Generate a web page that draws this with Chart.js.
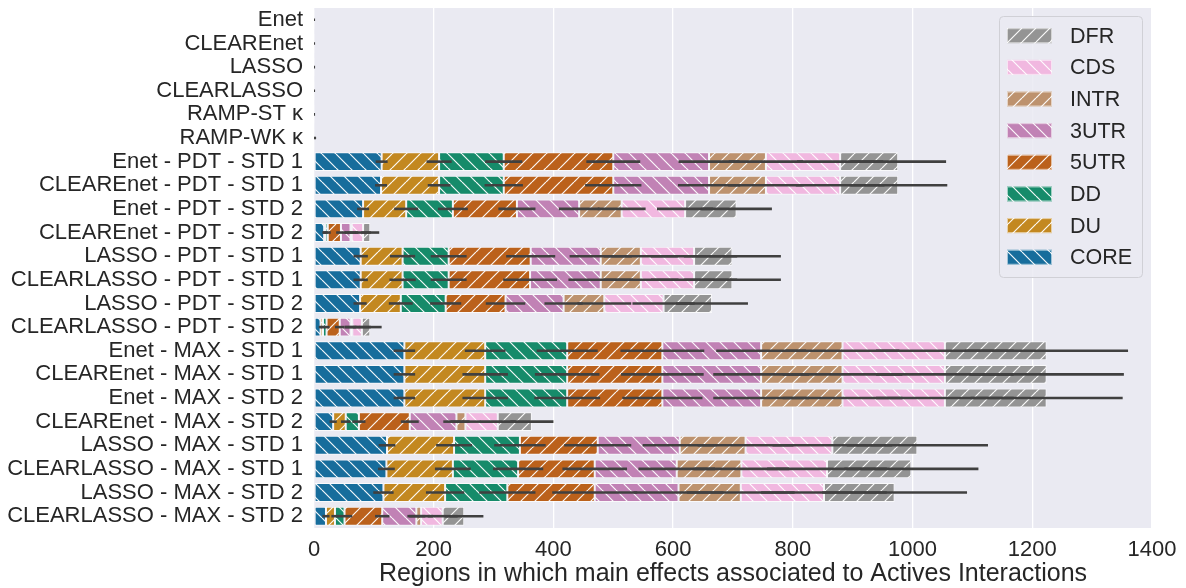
<!DOCTYPE html>
<html>
<head>
<meta charset="utf-8">
<script src="https://cdn.jsdelivr.net/npm/chart.js@4/dist/chart.umd.min.js"></script>
<style>
  body { margin: 0; background: #fff; }
</style>
</head>
<body>
<canvas id="regions" width="1186" height="588"></canvas>
<script>
const labels = [
  "Enet", "CLEAREnet", "LASSO", "CLEARLASSO", "RAMP-ST κ", "RAMP-WK κ",
  "Enet - PDT - STD 1", "CLEAREnet - PDT - STD 1", "Enet - PDT - STD 2", "CLEAREnet - PDT - STD 2",
  "LASSO - PDT - STD 1", "CLEARLASSO - PDT - STD 1", "LASSO - PDT - STD 2", "CLEARLASSO - PDT - STD 2",
  "Enet - MAX - STD 1", "CLEAREnet - MAX - STD 1", "Enet - MAX - STD 2", "CLEAREnet - MAX - STD 2",
  "LASSO - MAX - STD 1", "CLEARLASSO - MAX - STD 1", "LASSO - MAX - STD 2", "CLEARLASSO - MAX - STD 2"
];
const xTicks = [0, 200, 400, 600, 800, 1000, 1200, 1400];

// mean number of regions per region type
const core = [0.3, 0.3, 0.3, 0.3, 0.3, 1, 113, 112, 82, 17, 78, 78, 77, 11, 151, 151, 151, 32, 122, 121, 116, 20];
const du   = [0, 0, 0, 0, 0, 0.5, 96, 97, 72, 2, 70, 70, 68, 4, 135, 135, 135, 21, 112, 111, 103, 15];
const dd   = [0, 0, 0, 0, 0, 0, 108, 108, 78, 4, 77, 77, 75, 6, 137, 137, 137, 22, 110, 109, 104, 16];
const utr5 = [0, 0, 0, 0, 0, 0, 183, 183, 107, 22, 137, 136, 100, 22, 159, 159, 159, 85, 130, 128, 146, 63];
const utr3 = [0, 0, 0, 0, 0, 0, 160, 160, 104, 16, 117, 118, 97, 18, 165, 165, 165, 78, 137, 137, 140, 57];
const intr = [0, 0, 0, 0, 0, 0, 95, 95, 71, 2, 67, 67, 68, 3, 136, 136, 136, 15, 110, 108, 104, 8];
const cds  = [0, 0, 0, 0, 0, 0, 124, 124, 106, 19, 89, 89, 99, 16, 171, 171, 171, 54, 145, 143, 139, 36];
const dfr  = [0, 0, 0, 0, 0, 0, 97, 97, 86, 12, 64, 64, 81, 14, 170, 170, 170, 57, 142, 141, 118, 36];

// error bar half widths
const coreErr = [1.5, 1.5, 1.5, 1.5, 1.5, 2.5, 10, 10, 10, 3, 12, 12, 11, 3, 18, 18, 18, 6, 14, 14, 17, 6];
const duErr   = [0, 0, 0, 0, 0, 0, 21, 19, 20, 4, 21, 22, 20, 4, 34, 38, 38, 8, 30, 30, 32, 6];
const ddErr   = [0, 0, 0, 0, 0, 0, 31, 32, 25, 5, 30, 30, 26, 5, 51, 54, 55, 11, 43, 42, 47, 13];
const utr5Err = [0, 0, 0, 0, 0, 0, 45, 47, 31, 8, 41, 45, 33, 8, 70, 69, 67, 15, 56, 54, 71, 12];
const utr3Err = [0, 0, 0, 0, 0, 0, 51, 52, 34, 10, 52, 54, 32, 10, 75, 80, 80, 22, 62, 64, 75, 15];
const intrErr = [0, 0, 0, 0, 0, 0, 62, 63, 40, 11, 62, 63, 45, 12, 95, 100, 100, 25, 80, 80, 90, 20];
const cdsErr  = [0, 0, 0, 0, 0, 0, 72, 74, 47, 13, 72, 72, 52, 15, 115, 115, 115, 30, 100, 100, 105, 25];
const dfrErr  = [0, 0, 0, 0, 0, 0, 80, 82, 59, 15, 81, 81, 60, 19, 136, 129, 127, 36, 118, 112, 121, 32];

const names  = ["CORE", "DU", "DD", "5UTR", "3UTR", "INTR", "CDS", "DFR"];
const series = [core, du, dd, utr5, utr3, intr, cds, dfr];
const errs   = [coreErr, duErr, ddErr, utr5Err, utr3Err, intrErr, cdsErr, dfrErr];
const colors = ["#176D9C", "#C38820", "#168B6A", "#BB611B", "#C182B5", "#BD926E", "#F1B8E0", "#949494"];
const hatches = ["\\", "/", "\\", "/", "\\", "/", "\\", "/"];

const FONT = "'Liberation Sans', Arial, sans-serif";

function hatch(color, dir) {
  const s = 14;
  const c = document.createElement("canvas");
  c.width = s; c.height = s;
  const g = c.getContext("2d");
  g.fillStyle = color;
  g.fillRect(0, 0, s, s);
  g.strokeStyle = "rgba(255,255,255,0.95)";
  g.lineWidth = 1.2;
  g.beginPath();
  for (let k = -1; k <= 1; k++) {
    if (dir === "/") { g.moveTo(k * s, s); g.lineTo(k * s + s, 0); }
    else { g.moveTo(k * s, 0); g.lineTo(k * s + s, s); }
  }
  g.stroke();
  return g.createPattern(c, "repeat");
}

const patterns = colors.map((c, i) => hatch(c, hatches[i]));

const bgPlugin = {
  id: "bg",
  beforeDraw(chart) {
    const { ctx, chartArea: a } = chart;
    ctx.save();
    ctx.fillStyle = "#EAEAF2";
    ctx.fillRect(a.left, a.top, a.right - a.left, a.bottom - a.top);
    ctx.restore();
  }
};

const errPlugin = {
  id: "errbars",
  afterDatasetsDraw(chart) {
    const { ctx, chartArea: a } = chart;
    const x = chart.scales.x, y = chart.scales.y;
    ctx.save();
    ctx.beginPath();
    ctx.rect(a.left, a.top, a.right - a.left, a.bottom - a.top);
    ctx.clip();
    ctx.strokeStyle = "#404040";
    ctx.lineWidth = 2.6;
    labels.forEach((_, j) => {
      let cum = 0;
      series.forEach((s, i) => {
        cum += s[j];
        const e = errs[i][j];
        if (!e) return;
        const py = y.getPixelForValue(j);
        ctx.beginPath();
        ctx.moveTo(x.getPixelForValue(cum - e), py);
        ctx.lineTo(x.getPixelForValue(cum + e), py);
        ctx.stroke();
      });
    });
    ctx.restore();
  }
};

const legendPlugin = {
  id: "hatchLegend",
  afterDraw(chart) {
    const ctx = chart.ctx;
    const bx = 999, by = 16, bw = 143, bh = 261;
    ctx.save();
    ctx.beginPath();
    ctx.roundRect(bx + 0.5, by + 0.5, bw, bh, 4);
    ctx.fillStyle = "rgba(234,234,242,0.85)";
    ctx.fill();
    ctx.strokeStyle = "#D0D0D6";
    ctx.lineWidth = 1;
    ctx.stroke();
    ctx.font = "21.5px " + FONT;
    ctx.textBaseline = "middle";
    for (let r = 0; r < names.length; r++) {
      const i = names.length - 1 - r;
      const cy = 35.7 + r * 31.65;
      ctx.fillStyle = patterns[i];
      ctx.fillRect(1007, cy - 7.5, 45, 15);
      ctx.strokeStyle = "rgba(255,255,255,0.6)";
      ctx.strokeRect(1007.5, cy - 7, 44, 14);
      ctx.fillStyle = "#262626";
      ctx.fillText(names[i], 1070, cy + 1);
    }
    ctx.restore();
  }
};

new Chart(document.getElementById("regions"), {
  type: "bar",
  data: {
    labels: labels,
    datasets: series.map((s, i) => ({
      label: names[i],
      data: s,
      backgroundColor: patterns[i],
      borderColor: "rgba(255,255,255,0.7)",
      borderWidth: 1,
      borderSkipped: false,
      categoryPercentage: 1,
      barPercentage: 0.8
    }))
  },
  options: {
    indexAxis: "y",
    responsive: false,
    animation: false,
    layout: { padding: { top: 8, right: 34, left: 0, bottom: 0 } },
    plugins: {
      legend: { display: false },
      tooltip: { enabled: false }
    },
    scales: {
      x: {
        stacked: true,
        min: 0,
        max: 1400,
        afterBuildTicks: scale => { scale.ticks = xTicks.map(v => ({ value: v })); },
        afterFit: scale => {
          scale.height = 60;
          scale.paddingLeft = 0;
          scale.paddingRight = 0;
        },
        grid: { color: "#FFFFFF", lineWidth: 1.3, drawTicks: false },
        border: { display: false },
        ticks: {
          color: "#262626",
          padding: 11,
          maxRotation: 0,
          callback: v => String(v),
          font: { family: FONT, size: 22, lineHeight: 1 }
        },
        title: {
          display: true,
          text: "Regions in which main effects associated to Actives Interactions",
          color: "#262626",
          padding: { top: 0, bottom: 1 },
          font: { family: FONT, size: 25, lineHeight: 1 }
        }
      },
      y: {
        stacked: true,
        afterFit: scale => {
          scale.width = 314;
          scale.paddingTop = 0;
          scale.paddingBottom = 0;
        },
        grid: { display: false, drawTicks: false },
        border: { display: false },
        ticks: {
          autoSkip: false,
          color: "#262626",
          padding: 11,
          font: { family: FONT, size: 22, lineHeight: 1 }
        }
      }
    }
  },
  plugins: [bgPlugin, errPlugin, legendPlugin]
});
</script>
</body>
</html>
